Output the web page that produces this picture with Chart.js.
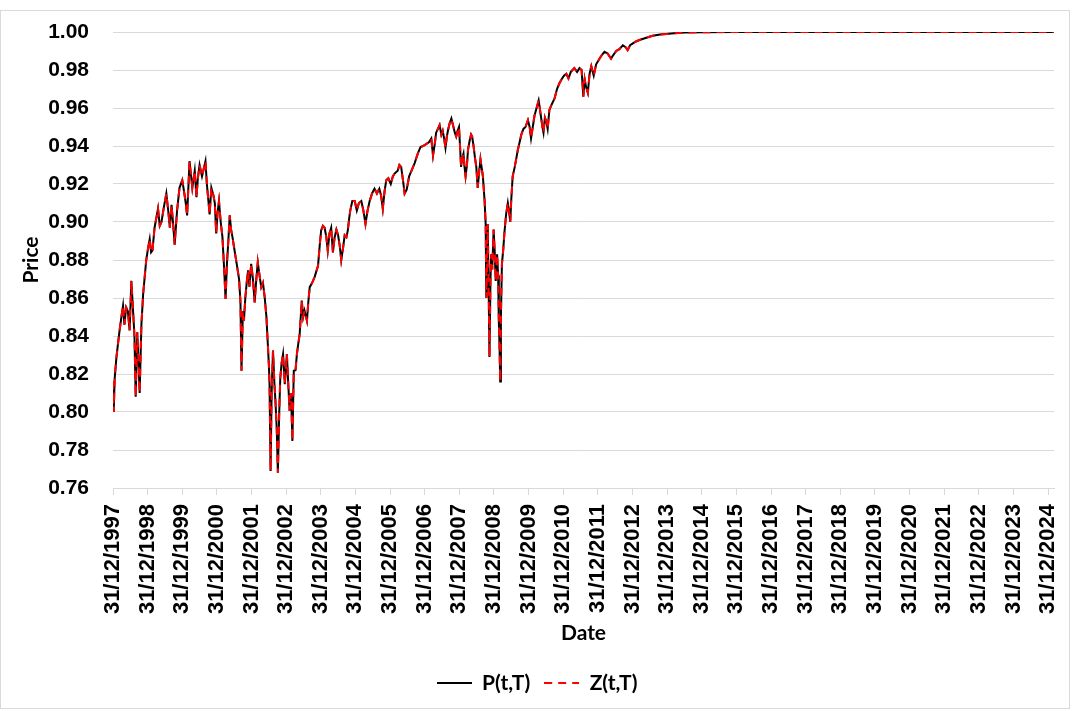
<!DOCTYPE html>
<html>
<head>
<meta charset="utf-8">
<script src="https://cdn.jsdelivr.net/npm/chart.js@4.4.1/dist/chart.umd.min.js"></script>
<style>
  html, body { margin: 0; padding: 0; background: #fff; }
  #wrap { width: 1074px; height: 711px; position: relative; }
</style>
</head>
<body>
<div id="wrap"><canvas id="c" width="1074" height="711"></canvas></div>
<script>
// Time in years after 31/12/1997
const times = [
0.00,0.02,0.05,0.10,0.19,0.25,0.29,0.33,0.38,0.43,0.48,0.53,0.58,0.62,0.655,0.70,0.74,0.77,0.82,0.87,
0.92,0.96,1.01,1.06,1.10,1.14,1.20,1.25,1.30,1.35,1.40,1.47,1.54,1.60,1.64,1.69,1.74,1.78,1.85,1.92,
2.00,2.06,2.10,2.14,2.21,2.25,2.29,2.36,2.41,2.45,2.50,2.57,2.62,2.67,2.71,2.75,2.79,2.84,2.90,2.94,
2.98,3.02,3.06,3.11,3.16,3.21,3.25,3.29,3.33,3.37,3.41,3.45,3.51,3.58,3.64,3.68,3.71,3.75,3.78,3.82,
3.86,3.90,3.94,3.99,4.04,4.09,4.13,4.18,4.23,4.28,4.33,4.38,4.43,4.47,4.50,4.52,4.55,4.58,4.62,4.66,
4.69,4.73,4.76,4.80,4.83,4.87,4.91,4.96,5.02,5.06,5.10,5.14,5.18,5.22,5.27,5.31,5.35,5.39,5.45,5.49,
5.53,5.60,5.64,5.68,5.75,5.82,5.87,5.92,5.97,6.01,6.06,6.11,6.16,6.20,6.25,6.30,6.35,6.40,6.45,6.50,
6.55,6.59,6.64,6.69,6.74,6.78,6.82,6.85,6.91,6.98,7.04,7.10,7.17,7.23,7.29,7.35,7.41,7.48,7.55,7.62,
7.69,7.74,7.79,7.84,7.89,7.95,8.02,8.08,8.13,8.22,8.27,8.32,8.38,8.42,8.48,8.55,8.62,8.71,8.80,8.88,
8.95,9.04,9.12,9.19,9.24,9.29,9.33,9.38,9.43,9.48,9.52,9.56,9.60,9.64,9.67,9.72,9.77,9.83,9.87,9.91,
9.95,9.99,10.02,10.05,10.09,10.12,10.15,10.18,10.22,10.25,10.30,10.34,10.37,10.41,10.45,10.49,10.53,10.57,10.61,10.65,
10.68,10.73,10.76,10.78,10.80,10.82,10.85,10.87,10.90,10.92,10.95,10.99,11.02,11.05,11.09,11.12,11.14,11.16,11.18,11.20,
11.23,11.27,11.30,11.35,11.40,11.44,11.47,11.50,11.54,11.60,11.65,11.69,11.74,11.79,11.85,11.91,11.98,12.03,12.07,12.12,
12.17,12.23,12.29,12.33,12.36,12.40,12.43,12.47,12.51,12.55,12.60,12.67,12.75,12.82,12.89,12.95,13.02,13.09,13.15,13.22,
13.32,13.40,13.47,13.53,13.58,13.62,13.66,13.71,13.76,13.81,13.88,13.95,14.05,14.12,14.19,14.28,14.38,14.45,14.53,14.62,
14.72,14.80,14.86,14.93,15.01,15.10,15.20,15.40,15.58,15.80,15.97,16.20,16.50,17.00,18.00,19.00,20.00,21.00,22.00,23.00,
24.00,25.00,26.00,27.00,27.17
];
const pValues = [
0.816,0.800,0.818,0.829,0.843,0.851,0.856,0.846,0.855,0.853,0.843,0.869,0.853,0.840,0.808,0.842,0.825,0.810,0.846,0.862,
0.872,0.880,0.886,0.891,0.884,0.885,0.897,0.902,0.907,0.898,0.900,0.908,0.915,0.905,0.897,0.909,0.898,0.888,0.906,0.918,
0.922,0.915,0.910,0.9035,0.932,0.925,0.918,0.927,0.913,0.923,0.930,0.924,0.928,0.932,0.920,0.912,0.904,0.918,0.914,0.910,
0.894,0.905,0.911,0.900,0.892,0.875,0.8595,0.878,0.890,0.9035,0.896,0.892,0.885,0.877,0.870,0.858,0.8217,0.853,0.848,0.860,
0.868,0.8745,0.866,0.878,0.870,0.8577,0.868,0.8788,0.872,0.8657,0.868,0.8604,0.850,0.8358,0.825,0.8147,0.769,0.810,0.8323,0.815,
0.806,0.790,0.768,0.800,0.818,0.826,0.8305,0.8147,0.8305,0.815,0.8006,0.810,0.7848,0.8217,0.822,0.8305,0.836,0.841,0.8586,0.850,
0.8534,0.848,0.858,0.8657,0.868,0.871,0.874,0.877,0.888,0.8956,0.898,0.897,0.892,0.885,0.894,0.897,0.884,0.892,0.896,0.893,
0.887,0.880,0.886,0.893,0.892,0.8956,0.902,0.906,0.911,0.911,0.906,0.910,0.911,0.906,0.899,0.906,0.911,0.915,0.9175,0.915,
0.9175,0.914,0.907,0.916,0.922,0.923,0.920,0.924,0.9255,0.927,0.930,0.929,0.921,0.915,0.917,0.924,0.927,0.931,0.936,0.9395,
0.940,0.941,0.942,0.944,0.935,0.941,0.947,0.949,0.951,0.946,0.948,0.944,0.939,0.945,0.948,0.952,0.9545,0.950,0.947,0.945,
0.948,0.950,0.940,0.929,0.934,0.936,0.929,0.924,0.930,0.938,0.943,0.946,0.945,0.940,0.934,0.929,0.918,0.926,0.933,0.928,
0.924,0.911,0.899,0.860,0.875,0.899,0.860,0.829,0.870,0.883,0.875,0.896,0.885,0.869,0.883,0.872,0.848,0.835,0.816,0.850,
0.878,0.886,0.894,0.904,0.910,0.905,0.900,0.912,0.924,0.929,0.934,0.938,0.942,0.946,0.949,0.950,0.9536,0.950,0.944,0.950,
0.956,0.960,0.964,0.959,0.955,0.950,0.947,0.955,0.953,0.949,0.959,0.962,0.965,0.970,0.973,0.975,0.977,0.978,0.9756,0.979,
0.981,0.979,0.981,0.980,0.966,0.975,0.971,0.968,0.978,0.982,0.977,0.983,0.986,0.988,0.9896,0.9887,0.986,0.988,0.990,0.991,
0.993,0.992,0.9905,0.993,0.994,0.995,0.9958,0.997,0.998,0.9987,0.999,0.9993,0.9997,0.9999,1.000,1.000,1.000,1.000,1.000,1.000,
1.000,1.000,1.000,1.000,1.000
];
const zValues = [
0.816,0.800,0.818,0.829,0.843,0.851,0.856,0.846,0.855,0.853,0.843,0.869,0.853,0.840,0.808,0.842,0.825,0.810,0.846,0.862,
0.872,0.880,0.886,0.891,0.884,0.885,0.897,0.902,0.907,0.898,0.900,0.908,0.915,0.905,0.897,0.909,0.898,0.888,0.906,0.918,
0.922,0.915,0.910,0.9035,0.932,0.925,0.918,0.927,0.913,0.923,0.930,0.924,0.928,0.932,0.920,0.912,0.904,0.918,0.914,0.910,
0.894,0.905,0.911,0.900,0.892,0.875,0.8595,0.878,0.890,0.9035,0.896,0.892,0.885,0.877,0.870,0.858,0.8217,0.853,0.848,0.860,
0.868,0.8745,0.866,0.878,0.870,0.8577,0.868,0.8788,0.872,0.8657,0.868,0.8604,0.850,0.8358,0.825,0.8147,0.769,0.810,0.8323,0.815,
0.806,0.790,0.768,0.800,0.818,0.826,0.8305,0.8147,0.8305,0.815,0.8006,0.810,0.7848,0.8217,0.822,0.8305,0.836,0.841,0.8586,0.850,
0.8534,0.848,0.858,0.8657,0.868,0.871,0.874,0.877,0.888,0.8956,0.898,0.897,0.892,0.885,0.894,0.897,0.884,0.892,0.896,0.893,
0.887,0.880,0.886,0.893,0.892,0.8956,0.902,0.906,0.911,0.911,0.906,0.910,0.911,0.906,0.899,0.906,0.911,0.915,0.9175,0.915,
0.9175,0.914,0.907,0.916,0.922,0.923,0.920,0.924,0.9255,0.927,0.930,0.929,0.921,0.915,0.917,0.924,0.927,0.931,0.936,0.9395,
0.940,0.941,0.942,0.944,0.935,0.941,0.947,0.949,0.951,0.946,0.948,0.944,0.939,0.945,0.948,0.952,0.9545,0.950,0.947,0.945,
0.948,0.950,0.940,0.929,0.934,0.936,0.929,0.924,0.930,0.938,0.943,0.946,0.945,0.940,0.934,0.929,0.918,0.926,0.933,0.928,
0.924,0.911,0.899,0.860,0.875,0.899,0.860,0.829,0.870,0.883,0.875,0.896,0.885,0.869,0.883,0.872,0.848,0.835,0.816,0.850,
0.878,0.886,0.894,0.904,0.910,0.905,0.900,0.912,0.924,0.929,0.934,0.938,0.942,0.946,0.949,0.950,0.9536,0.950,0.944,0.950,
0.956,0.960,0.964,0.959,0.955,0.950,0.947,0.955,0.953,0.949,0.959,0.962,0.965,0.970,0.973,0.975,0.977,0.978,0.9756,0.979,
0.981,0.979,0.981,0.980,0.966,0.975,0.971,0.968,0.978,0.982,0.977,0.983,0.986,0.988,0.9896,0.9887,0.986,0.988,0.990,0.991,
0.993,0.992,0.9905,0.993,0.994,0.995,0.9958,0.997,0.998,0.9987,0.999,0.9993,0.9997,0.9999,1.000,1.000,1.000,1.000,1.000,1.000,
1.000,1.000,1.000,1.000,1.000
];
const startYear = 1997;
const tickLabelPrefix = "31/12/";
const yTicks = [0.76,0.78,0.80,0.82,0.84,0.86,0.88,0.90,0.92,0.94,0.96,0.98,1.00];
const seriesNames = ["P(t,T)", "Z(t,T)"];

const toXY = (vals) => times.map((t, i) => ({ x: t, y: vals[i] }));

// small legend swatches (line samples)
function swatch(color, width, dash) {
  const c = document.createElement('canvas');
  c.width = 35; c.height = 4;
  const g = c.getContext('2d');
  g.strokeStyle = color; g.lineWidth = width;
  g.setLineDash(dash);
  g.beginPath(); g.moveTo(0, 2); g.lineTo(35, 2); g.stroke();
  return c;
}
const swatchP = swatch('#000000', 2, []);
const swatchZ = swatch('#ff0000', 2, [8, 6]);

const borderPlugin = {
  id: 'frame',
  beforeDraw(chart) {
    const ctx = chart.ctx;
    ctx.save();
    ctx.fillStyle = '#ffffff';
    ctx.fillRect(0, 0, chart.width, chart.height);
    ctx.strokeStyle = '#d9d9d9';
    ctx.lineWidth = 1;
    ctx.strokeRect(0.5, 10.5, 1069, 698);
    ctx.restore();
  }
};

const tickFontX = { family: 'Liberation Sans', weight: 'bold', size: 22 };
const tickFontY = { family: 'Liberation Sans', weight: 'bold', size: 21 };
const titleFont = { family: 'Lato', weight: 'bold', size: 21 };

new Chart(document.getElementById('c'), {
  type: 'line',
  data: {
    datasets: [
      { label: seriesNames[0], data: toXY(pValues), borderColor: '#000000', backgroundColor: '#000000',
        borderWidth: 2, pointRadius: 0, tension: 0, order: 2, pointStyle: swatchP },
      { label: seriesNames[1], data: toXY(zValues), borderColor: '#ff0000', backgroundColor: '#ff0000',
        borderWidth: 2, borderDash: [8, 6], pointRadius: 0, tension: 0, order: 1, pointStyle: swatchZ }
    ]
  },
  options: {
    responsive: false,
    animation: false,
    devicePixelRatio: 1,
    layout: { padding: { top: 32, left: 0, right: 0, bottom: 7.5 } },
    plugins: {
      legend: {
        position: 'bottom',
        labels: {
          usePointStyle: true, pointStyleWidth: 35,
          font: titleFont, color: '#000', padding: 14,
          sort: (a, b) => a.datasetIndex - b.datasetIndex
        }
      },
      tooltip: { enabled: false }
    },
    scales: {
      x: {
        type: 'linear',
        min: 0, max: 27.17,
        afterFit(scale) {
          scale.height = 170.5;
          scale.paddingLeft = 0; scale.paddingRight = 0;
          scale.paddingTop = 0; scale.paddingBottom = 0;
        },
        grid: { drawOnChartArea: false, drawTicks: true, tickLength: 7, color: '#d9d9d9' },
        border: { display: true, color: '#d9d9d9' },
        ticks: {
          stepSize: 1, includeBounds: false, autoSkip: false,
          minRotation: 90, maxRotation: 90, padding: 9,
          font: tickFontX, color: '#000',
          callback: (v) => tickLabelPrefix + (startYear + Math.round(v))
        },
        title: { display: true, text: 'Date', font: titleFont, color: '#000', padding: { top: 0, bottom: 13 } }
      },
      y: {
        type: 'linear',
        min: 0.76, max: 1.00,
        afterFit(scale) {
          scale.width = 113;
          scale.paddingLeft = 0; scale.paddingRight = 0;
          scale.paddingTop = 0; scale.paddingBottom = 0;
        },
        afterBuildTicks(scale) { scale.ticks = yTicks.map(v => ({ value: v })); },
        grid: { drawTicks: false, color: '#d9d9d9' },
        border: { display: false },
        ticks: { padding: 24, font: tickFontY, color: '#000', callback: (v) => Number(v).toFixed(2) },
        title: { display: true, text: 'Price', font: titleFont, color: '#000', padding: { top: 19, bottom: 0 } }
      },
      yRight: {
        type: 'linear', position: 'right',
        afterFit(scale) {
          scale.width = 20;
          scale.paddingLeft = 0; scale.paddingRight = 0;
          scale.paddingTop = 0; scale.paddingBottom = 0;
        },
        grid: { display: false }, border: { display: false },
        ticks: { display: false }
      }
    }
  },
  plugins: [borderPlugin]
});
</script>
</body>
</html>
